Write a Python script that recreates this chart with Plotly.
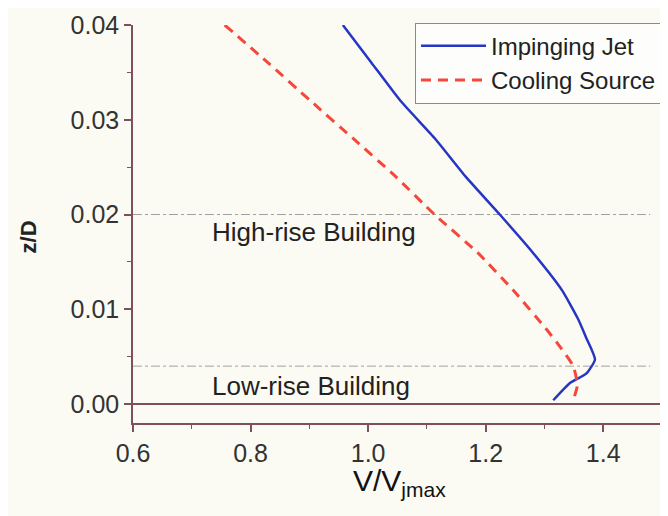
import plotly.graph_objects as go

# Impinging Jet profile (V/Vjmax vs z/D)
jet_z = [0.040, 0.036, 0.032, 0.028, 0.024, 0.020, 0.016, 0.012, 0.009, 0.007, 0.0047, 0.0032, 0.0022, 0.0004]
jet_v = [0.957, 1.006, 1.055, 1.114, 1.166, 1.224, 1.280, 1.330, 1.357, 1.371, 1.386, 1.371, 1.343, 1.315]

# Cooling Source profile
cool_z = [0.040, 0.036, 0.032, 0.028, 0.024, 0.020, 0.016, 0.012, 0.008, 0.006, 0.004, 0.002, 0.0004]
cool_v = [0.756, 0.830, 0.902, 0.975, 1.047, 1.113, 1.186, 1.247, 1.302, 1.327, 1.349, 1.356, 1.349]

# Building heights (reference lines) and labels
building_z = [0.020, 0.004]
building_labels = ["High-rise Building", "Low-rise Building"]
label_z = [0.0182, 0.0019]

x_ticks = [0.6, 0.8, 1.0, 1.2, 1.4]
y_ticks = [0.00, 0.01, 0.02, 0.03, 0.04]

AXC = "#7f4f5c"
FONT = "Liberation Sans"
BG = "#fbfbf4"

fig = go.Figure()
fig.add_trace(go.Scatter(x=jet_v, y=jet_z, mode="lines", name="Impinging Jet",
                         line=dict(color="#2635c4", width=2.5, shape="spline", smoothing=0.5)))
fig.add_trace(go.Scatter(x=cool_v, y=cool_z, mode="lines", name="Cooling Source",
                         line=dict(color="#f5473a", width=3, dash="10px,7px", shape="spline", smoothing=0.5)))

for bz in building_z:
    fig.add_shape(type="line", x0=0.6, x1=1.48, y0=bz, y1=bz, xref="x", yref="y",
                  line=dict(color="#a0a0a0", width=1, dash="dashdot"), layer="below")

for lbl, lz in zip(building_labels, label_z):
    fig.add_annotation(x=0.731, y=lz, xref="x", yref="y", text=lbl, showarrow=False,
                       xanchor="left", yanchor="middle",
                       font=dict(family=FONT, size=26, color="#222222"))

# axis titles
fig.add_annotation(x=0.503, y=-0.1, xref="paper", yref="paper",
                   text="V/V<sub>jmax</sub>", showarrow=False, xanchor="center", yanchor="top",
                   borderpad=0,
                   font=dict(family=FONT, size=30, color="#111111"))
fig.add_annotation(x=-0.198, y=0.467, xref="paper", yref="paper", text="z/D", textangle=-90,
                   showarrow=False, xanchor="center", yanchor="middle",
                   font=dict(family=FONT, size=22, color="#222222", weight="bold"))

fig.update_layout(
    width=660, height=508,
    margin=dict(l=125, r=6, t=17, b=93, autoexpand=False),
    paper_bgcolor=BG, plot_bgcolor=BG,
    showlegend=True,
    legend=dict(x=1.0, y=1.006, xanchor="right", yanchor="top",
                bgcolor="rgba(255,255,255,0.6)", bordercolor="#8a8a8a", borderwidth=1,
                font=dict(family=FONT, size=24, color="#222222"),
                tracegroupgap=0, itemwidth=65),
    font=dict(family=FONT, color="#333333"),
)
fig.update_xaxes(range=[0.6, 1.5], tickvals=x_ticks, ticktext=[f"{v:.1f}" for v in x_ticks],
                 showgrid=False, zeroline=False, showline=True, linecolor=AXC, linewidth=1.5,
                 ticks="outside", ticklen=7, tickwidth=1.5, tickcolor=AXC,
                 tickfont=dict(family=FONT, size=25, color="#333333"),
                 minor=dict(dtick=0.1, tick0=0.6, ticks="outside", ticklen=4, tickcolor=AXC, tickwidth=1.2))
fig.update_yaxes(range=[-0.002, 0.04], tickvals=y_ticks, ticktext=[f"{v:.2f}" for v in y_ticks],
                 showgrid=False, zeroline=True, zerolinecolor=AXC, zerolinewidth=1.5,
                 showline=True, linecolor=AXC, linewidth=1.5,
                 ticks="outside", ticklen=7, tickwidth=1.5, tickcolor=AXC,
                 tickfont=dict(family=FONT, size=25, color="#333333"),
                 minor=dict(dtick=0.005, tick0=0.0, ticks="outside", ticklen=4, tickcolor=AXC, tickwidth=1.2))

fig.write_html("out.html")
